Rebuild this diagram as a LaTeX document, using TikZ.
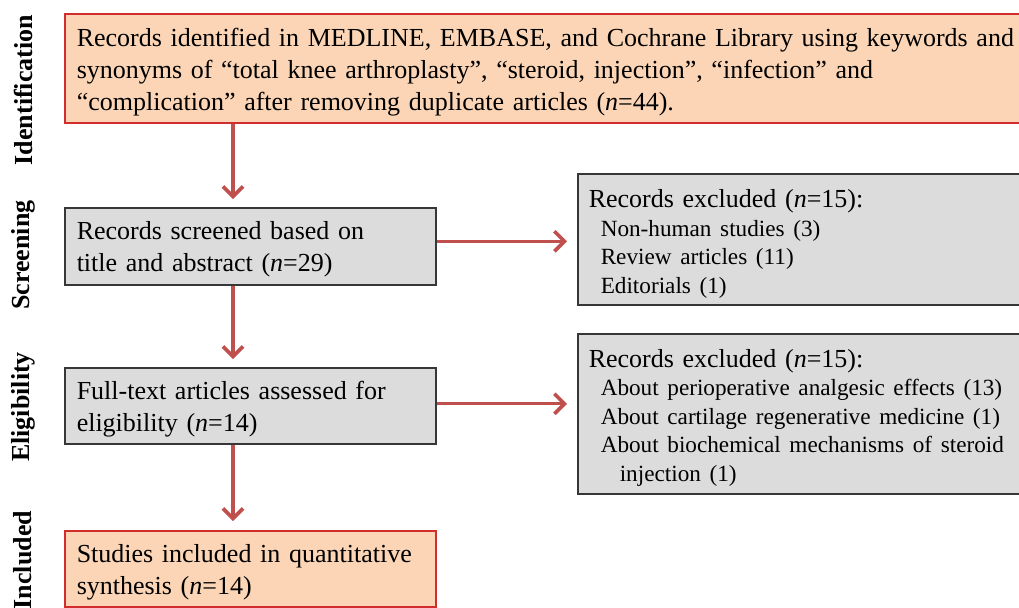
\documentclass[tikz,border=0pt]{standalone}
\usepackage{fontspec}
\setmainfont{Liberation Serif}
\usepackage{tikz}
\usetikzlibrary{arrows.meta,positioning,calc}
\usepackage{xcolor}
\definecolor{cPeach}{RGB}{251,213,181}
\definecolor{cRedLine}{RGB}{210,45,45}
\definecolor{cArrow}{RGB}{192,80,77}
\definecolor{cGrey}{RGB}{220,220,220}
\definecolor{cGreyLine}{RGB}{55,55,55}
\setlength{\parindent}{0pt}
\newcommand{\bodyfont}{\fontsize{13}{16}\selectfont}
\newcommand{\exitems}{\fontsize{11.6}{14.3}\selectfont\leftskip=6pt}
\newcommand{\topgap}[1]{\rule{0pt}{#1}}
\tikzset{
	orbox/.style={draw=cRedLine, line width=0.75pt, fill=cPeach,
		anchor=north west, inner xsep=6pt, align=left, font=\bodyfont},
	grbox/.style={draw=cGreyLine, line width=0.75pt, fill=cGrey,
		anchor=north west, inner xsep=6pt, align=left, font=\bodyfont},
	exbox/.style={draw=cGreyLine, line width=0.75pt, fill=cGrey,
		anchor=north west, inner xsep=5.5pt, align=left, font=\bodyfont,
		text width=235pt},
	stage/.style={rotate=90, font=\bfseries\bodyfont},
	parr/.style={-{Straight Barb[length=5pt,width=10pt,line width=1.8pt]},
		line width=1.6pt, draw=cArrow},
}
\begin{document}
\begin{tikzpicture}[x=0.5pt, y=-0.5pt]
	\useasboundingbox (0,0) rectangle (1019,607);
	\node[stage] (sidf) at (23,90) {Identification};
	\node[stage] (sscr) at (23,255) {Screening};
	\node[stage] (selg) at (23,407) {Eligibility};
	\node[stage] (sinc) at (23,560) {Included};
	\node[orbox, text width=500pt, minimum height=54.5pt] (ident) at (64,13)
		{\topgap{13pt}Records identified in MEDLINE, EMBASE, and Cochrane Library using keywords and\\
		synonyms of ``total knee arthroplasty'', ``steroid, injection'', ``infection'' and\\
		``complication'' after removing duplicate articles (\textit{n}=44).};
	\node[grbox, text width=173.5pt, minimum height=38.5pt] (screen) at (64,207)
		{\topgap{12.5pt}Records screened based on\\ title and abstract (\textit{n}=29)};
	\node[grbox, text width=173.5pt, minimum height=38pt] (elig) at (64,367)
		{\topgap{12.5pt}Full-text articles assessed for\\ eligibility (\textit{n}=14)};
	\node[orbox, text width=173.5pt, minimum height=38pt] (incl) at (64,530)
		{\topgap{12.5pt}Studies included in quantitative\\ synthesis (\textit{n}=14)};
	\node[exbox, minimum height=64.5pt] (exa) at (577,173)
		{\topgap{13.5pt}Records excluded (\textit{n}=15):\par
		{\exitems Non-human studies (3)\par Review articles (11)\par Editorials (1)\par}};
	\node[exbox, minimum height=80pt] (exb) at (577,333)
		{\topgap{13pt}Records excluded (\textit{n}=15):\par
		{\exitems About perioperative analgesic effects (13)\par
		About cartilage regenerative medicine (1)\par
		About biochemical mechanisms of steroid\par
		\hspace*{9.5pt}injection (1)\par}};
	\coordinate (spine) at (233,0);
	\draw[parr] (ident.south -| spine) -- ([yshift=4pt]screen.north -| spine);
	\draw[parr] (screen.south -| spine) -- ([yshift=4pt]elig.north -| spine);
	\draw[parr] (elig.south -| spine) -- ([yshift=4.5pt]incl.north -| spine);
	\draw[parr] ([yshift=2.5pt]screen.east) -- ([xshift=-5pt,yshift=2.5pt]screen.east -| exa.west);
	\draw[parr] ([yshift=1pt]elig.east) -- ([xshift=-5pt,yshift=1pt]elig.east -| exb.west);
\end{tikzpicture}
\end{document}
